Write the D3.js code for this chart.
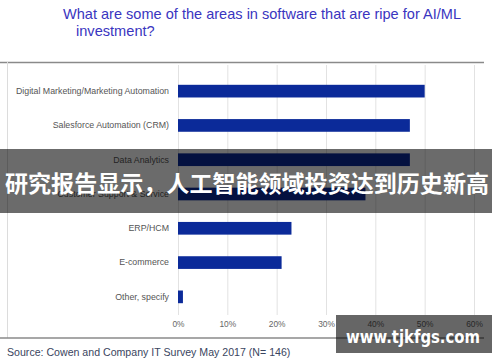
<!DOCTYPE html>
<html>
<head>
<meta charset="utf-8">
<script src="https://cdn.jsdelivr.net/npm/d3@7"></script>
<style>
  body { margin: 0; background: #fff; }
  svg { display: block; font-family: "Liberation Sans", Arial, sans-serif; }
</style>
</head>
<body>
<svg id="chart" width="500" height="362"></svg>
<script>
// survey answers, share of respondents
const categories = [
  "Digital Marketing/Marketing Automation",
  "Salesforce Automation (CRM)",
  "Data Analytics",
  "Customer Support & Service",
  "ERP/HCM",
  "E-commerce",
  "Other, specify"
];
const values = [0.50, 0.47, 0.47, 0.38, 0.23, 0.21, 0.01];
const ticks = [0, 0.1, 0.2, 0.3, 0.4, 0.5, 0.6];

const titleLines = ["What are some of the areas in software that are ripe for AI/ML", "investment?"];
const source = "Source: Cowen and Company IT Survey May 2017 (N= 146)";
const banner = "研究报告显示，人工智能领域投资达到历史新高";
const mark = "www.tjkfgs.com";

const svg = d3.select("#chart");

const x = d3.scaleLinear().domain([0, 0.6]).range([178, 474]);
const y = d3.scaleBand().domain(categories).range([74, 314]).paddingInner(0.63).paddingOuter(0.315);

// title
svg.append("text").attr("x", 63).attr("y", 19)
  .attr("fill", "#3a35c0").attr("font-size", 14.6)
  .attr("textLength", 398).attr("lengthAdjust", "spacingAndGlyphs")
  .text(titleLines[0]);
svg.append("text").attr("x", 76).attr("y", 36)
  .attr("fill", "#3a35c0").attr("font-size", 14.6)
  .text(titleLines[1]);

// frame lines
svg.append("line").attr("x1", 0).attr("x2", 484).attr("y1", 62.5).attr("y2", 62.5)
  .attr("stroke", "#8a8a8a").attr("stroke-width", 1.5);
svg.append("line").attr("x1", 7.5).attr("x2", 7.5).attr("y1", 62).attr("y2", 338)
  .attr("stroke", "#dcdcdc").attr("stroke-width", 1);
svg.append("line").attr("x1", 0).attr("x2", 484).attr("y1", 338).attr("y2", 338)
  .attr("stroke", "#8a8a8a").attr("stroke-width", 1.5);

// grid
svg.append("g").selectAll("line").data(ticks).join("line")
  .attr("x1", d => x(d) + 0.5).attr("x2", d => x(d) + 0.5)
  .attr("y1", 65).attr("y2", 315)
  .attr("stroke", "#e2e2e2").attr("stroke-width", 1);

// x axis labels
const xAxis = d3.axisBottom(x).tickValues(ticks).tickFormat(d3.format(".0%")).tickSize(0).tickPadding(0);
const gx = svg.append("g").attr("transform", "translate(0,321)").call(xAxis);
gx.select(".domain").remove();
gx.selectAll("text").attr("fill", "#666").attr("font-size", 8.4)
  .attr("font-family", "Liberation Sans, Arial, sans-serif");

// category labels
const yAxis = d3.axisLeft(y).tickSize(0).tickPadding(9);
const gy = svg.append("g").attr("transform", "translate(178,0)").call(yAxis);
gy.select(".domain").remove();
gy.selectAll("text").attr("fill", "#555").attr("font-size", 8.8)
  .attr("font-family", "Liberation Sans, Arial, sans-serif");

// bars
svg.append("g").selectAll("rect").data(values).join("rect")
  .attr("x", x(0))
  .attr("y", (d, i) => y(categories[i]))
  .attr("width", d => x(d) - x(0))
  .attr("height", y.bandwidth())
  .attr("fill", "#0b2a99");

// source
svg.append("text").attr("x", 7).attr("y", 356)
  .attr("fill", "#3a4560").attr("font-size", 10.6)
  .text(source);

// overlay banner
svg.append("rect").attr("x", 0).attr("y", 149).attr("width", 492).attr("height", 64)
  .attr("fill", "#000").attr("fill-opacity", 0.58);
svg.append("text").attr("x", 5).attr("y", 192)
  .attr("fill", "#fff").attr("font-size", 22.5).attr("font-weight", "bold")
  .attr("font-family", "Noto Sans CJK SC, sans-serif")
  .attr("textLength", 484).attr("lengthAdjust", "spacingAndGlyphs")
  .text(banner);

// watermark box
svg.append("rect").attr("x", 336).attr("y", 315).attr("width", 156).attr("height", 38)
  .attr("fill", "#000").attr("fill-opacity", 0.6);
svg.append("text").attr("x", 346).attr("y", 343)
  .attr("fill", "#fff").attr("font-size", 18).attr("font-weight", "bold")
  .attr("font-family", "DejaVu Sans, sans-serif")
  .attr("textLength", 134).attr("lengthAdjust", "spacingAndGlyphs")
  .text(mark);
</script>
</body>
</html>
